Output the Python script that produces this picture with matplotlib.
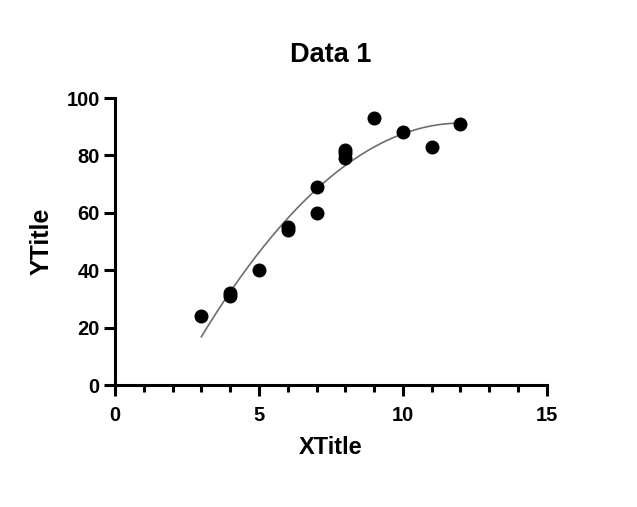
import numpy as np
import matplotlib.pyplot as plt

plt.rcParams['font.family'] = ['Liberation Sans', 'DejaVu Sans']
plt.rcParams['font.weight'] = 'bold'

# data
x = [3, 4, 4, 5, 6, 6, 7, 7, 8, 8, 8, 9, 10, 11, 12]
y = [24, 32, 31, 40, 55, 54, 69, 60, 82, 81, 79, 93, 88, 83, 91]

# quadratic fit line
coef = np.polyfit(x, y, 2)
xf = np.linspace(min(x), max(x), 200)
yf = np.polyval(coef, xf)

fig = plt.figure(figsize=(6.37, 5.07), dpi=100)
ax = fig.add_axes([0.1805, 0.2406, 0.678, 0.5661])

ax.plot(xf, yf, color='#6e6e6e', lw=1.2, zorder=2)
ax.scatter(x, y, s=82, color='black', zorder=3)

ax.set_xlim(0, 15)
ax.set_ylim(0, 100)
ax.set_xticks([0, 5, 10, 15])
ax.set_xticks(np.arange(0, 16, 1), minor=True)
ax.set_yticks([0, 20, 40, 60, 80, 100])

for s in ['top', 'right']:
    ax.spines[s].set_visible(False)
for s in ['left', 'bottom']:
    ax.spines[s].set_linewidth(2.2)
ax.tick_params(axis='both', which='major', width=2.2, length=8, labelsize=14.5)
ax.tick_params(axis='x', which='major', pad=7)
ax.tick_params(axis='y', which='major', pad=3)
ax.tick_params(axis='x', which='minor', width=2.2, length=5)
for lab in ax.get_xticklabels() + ax.get_yticklabels():
    lab.set_fontweight('bold')

ax.set_title("Data 1", fontsize=19.5, fontweight='bold', pad=26)
ax.set_xlabel("XTitle", fontsize=17, fontweight='bold', labelpad=8)
ax.set_ylabel("YTitle", fontsize=18, fontweight='bold', labelpad=9)

fig.savefig("out.png", dpi=100)
